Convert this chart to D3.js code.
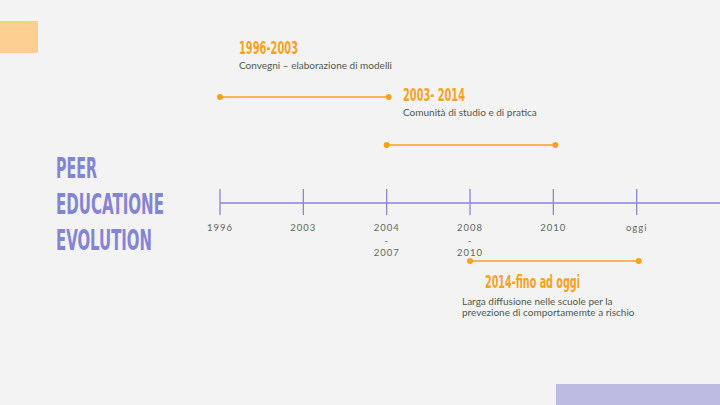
<!DOCTYPE html>
<html>
<head>
<meta charset="utf-8">
<script src="https://cdn.jsdelivr.net/npm/d3@7"></script>
<style>
  html, body { margin: 0; padding: 0; background: #f3f3f3; }
  svg { display: block; }
</style>
</head>
<body>
<div id="timeline"></div>
<script>
// timeline data
const tickKeys = ["1996", "2003", "2004-2007", "2008-2010", "2010", "oggi"];
const tickLabels = [["1996"], ["2003"], ["2004", "-", "2007"], ["2008", "-", "2010"], ["2010"], ["oggi"]];

const periodTitles = ["1996-2003", "2003- 2014", "2014-fino ad oggi"];
const periodDescs = [
  ["Convegni \u2013 elaborazione di modelli"],
  ["Comunit\u00e0 di studio e di pratica"],
  ["Larga diffusione nelle scuole per la", "prevezione di comportamemte a rischio"]
];
const periodFrom = ["1996", "2004-2007", "2008-2010"];
const periodTo = ["2004-2007", "2010", "oggi"];

const titleLines = ["PEER", "EDUCATIONE", "EVOLUTION"];

//set svg parameters
const width = 720,
      height = 405;
const svg = d3.select("#timeline")
  .append("svg")
    .attr("width", width)
    .attr("height", height)
    .attr("viewBox", "0 0 720 405");

const purple = "#8a86cf",
      orange = "#f7a21b",
      textGrey = "#4e5a4c";
const condensed = "'Liberation Sans Narrow', 'DejaVu Sans Condensed', sans-serif";

// background and decoration blocks
svg.append("rect").attr("width", width).attr("height", height).attr("fill", "#f3f3f3");
svg.append("rect").attr("x", 0).attr("y", 21).attr("width", 38).attr("height", 32).attr("fill", "#fbcf8f");
svg.append("rect").attr("x", 556).attr("y", 384).attr("width", 164).attr("height", 21).attr("fill", "#bcbce2");

// big title
const titleWidths = [41, 108, 96];
svg.append("g")
  .selectAll("text")
  .data(titleLines)
  .join("text")
    .attr("x", 56)
    .attr("y", (d, i) => 178 + i * 36)
    .attr("textLength", (d, i) => titleWidths[i])
    .attr("lengthAdjust", "spacingAndGlyphs")
    .style("font-family", condensed)
    .style("font-weight", "bold")
    .style("font-size", "29px")
    .style("fill", "#8484d4")
    .text(d => d);

// x scale
const x = d3.scalePoint()
  .domain(tickKeys)
  .range([220, 636.7]);

const axisY = 203;

// axis
const axis = svg.append("g");
axis.append("line")
  .attr("x1", x(tickKeys[0]))
  .attr("x2", width)
  .attr("y1", axisY)
  .attr("y2", axisY)
  .attr("stroke", purple)
  .attr("stroke-width", 1.3);

const tick = axis.selectAll("g.tick")
  .data(tickKeys)
  .join("g")
    .attr("class", "tick")
    .attr("transform", d => `translate(${x(d)},0)`);

tick.append("line")
  .attr("y1", axisY - 14)
  .attr("y2", axisY + 12)
  .attr("stroke", purple)
  .attr("stroke-width", 1.3);

tick.append("text")
  .attr("text-anchor", "middle")
  .style("font-family", "Lato, sans-serif")
  .style("font-size", "9.5px")
  .style("letter-spacing", "1px")
  .style("fill", "#5f665c")
  .selectAll("tspan")
  .data((d, i) => tickLabels[i])
  .join("tspan")
    .attr("x", 0)
    .attr("y", (d, i) => 231 + i * 12.5)
    .text(d => d);

// period segments
const layout = [
  { segY: 97, titleX: 239, titleY: 54, descX: 239, descY: 69 },
  { segY: 145, titleX: 403, titleY: 101, descX: 403, descY: 116 },
  { segY: 261, titleX: 485, titleY: 288, descX: 462, descY: 305 }
];
const titleW = [59, 62, 95];

const period = svg.append("g")
  .selectAll("g")
  .data(periodTitles)
  .join("g");

period.append("line")
  .attr("x1", (d, i) => x(periodFrom[i]))
  .attr("x2", (d, i) => x(periodTo[i]) + 2)
  .attr("y1", (d, i) => layout[i].segY)
  .attr("y2", (d, i) => layout[i].segY)
  .attr("stroke", orange)
  .attr("stroke-width", 1.5);

period.selectAll("circle")
  .data((d, i) => [[x(periodFrom[i]), layout[i].segY], [x(periodTo[i]) + 2, layout[i].segY]])
  .join("circle")
    .attr("cx", d => d[0])
    .attr("cy", d => d[1])
    .attr("r", 3)
    .attr("fill", orange);

period.append("text")
  .attr("x", (d, i) => layout[i].titleX)
  .attr("y", (d, i) => layout[i].titleY)
  .attr("textLength", (d, i) => titleW[i])
  .attr("lengthAdjust", "spacingAndGlyphs")
  .style("font-family", condensed)
  .style("font-weight", "bold")
  .style("font-size", "17px")
  .style("fill", orange)
  .text(d => d);

period.append("text")
  .style("font-family", "Lato, sans-serif")
  .style("font-size", "10px")
  .style("fill", textGrey)
  .selectAll("tspan")
  .data((d, i) => periodDescs[i].map(t => ({ t, i })))
  .join("tspan")
    .attr("x", d => layout[d.i].descX)
    .attr("y", (d, j) => layout[d.i].descY + j * 11)
    .text(d => d.t);
</script>
</body>
</html>
